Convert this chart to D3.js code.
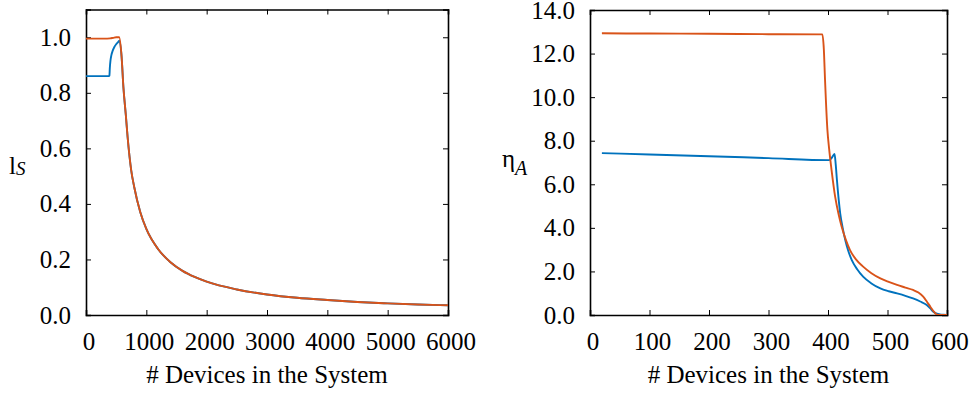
<!DOCTYPE html>
<html>
<head>
<meta charset="utf-8">
<script src="https://cdn.jsdelivr.net/npm/d3@7"></script>
<style>
  html, body { margin: 0; padding: 0; background: #fff; }
  svg { display: block; }
  text { font-family: "Liberation Serif", "DejaVu Serif", serif; fill: #000; }
</style>
</head>
<body>
<svg id="chart" width="973" height="396"></svg>
<script>
// ---------------- data ----------------
// Left panel: l_S vs number of devices
const leftBlueN = [0, 100, 200, 300, 380, 388, 395, 405, 420, 440, 470, 500, 530, 555, 590, 620, 660, 690, 750, 800, 900, 1000, 1200, 1400, 1600, 1800, 2000, 2500, 3000, 3500, 4000, 4500, 5000, 5500, 6000];
const leftBlueV = [0.86, 0.86, 0.86, 0.86, 0.86, 0.862, 0.89, 0.915, 0.935, 0.95, 0.965, 0.975, 0.982, 0.988, 0.93, 0.82, 0.72, 0.64, 0.52, 0.46, 0.37, 0.31, 0.236, 0.19, 0.159, 0.137, 0.12, 0.092, 0.074, 0.062, 0.054, 0.047, 0.042, 0.038, 0.035];
const leftOrangeN = [0, 100, 200, 300, 400, 450, 500, 550, 590, 620, 660, 690, 750, 800, 900, 1000, 1200, 1400, 1600, 1800, 2000, 2500, 3000, 3500, 4000, 4500, 5000, 5500, 6000];
const leftOrangeV = [0.995, 0.995, 0.995, 0.995, 0.996, 0.998, 1.0, 1.0, 0.93, 0.82, 0.72, 0.64, 0.52, 0.46, 0.37, 0.31, 0.236, 0.19, 0.159, 0.137, 0.12, 0.092, 0.074, 0.062, 0.054, 0.047, 0.042, 0.038, 0.035];

// Right panel: eta_A vs number of devices
const rightBlueN = [20, 100, 200, 300, 402, 406, 411, 413, 415, 420.5, 425, 429, 434, 440, 449, 459, 473, 488, 502, 516, 530, 543, 555, 566, 572, 577, 583, 588, 594, 600];
const rightBlueV = [7.43, 7.37, 7.29, 7.2, 7.11, 7.2, 7.39, 6.9, 6.2, 4.67, 3.95, 3.44, 2.95, 2.52, 2.1, 1.76, 1.45, 1.22, 1.09, 0.99, 0.88, 0.76, 0.62, 0.46, 0.3, 0.15, 0.06, 0.03, 0.01, 0.0];
const rightOrangeN = [20, 100, 200, 300, 390.5, 393, 395, 399, 402, 406, 412, 418, 423, 430, 437, 447, 459, 473, 488, 502, 516, 530, 543, 552, 560, 566, 572, 578, 583, 590, 600];
const rightOrangeV = [12.93, 12.92, 12.91, 12.89, 12.88, 12.2, 10.8, 8.5, 7.6, 6.65, 5.43, 4.6, 4.05, 3.45, 2.98, 2.55, 2.22, 1.92, 1.68, 1.52, 1.38, 1.26, 1.15, 1.03, 0.84, 0.62, 0.38, 0.15, 0.02, 0.0, 0.0];

// tick values
const leftXTicks = [0, 1000, 2000, 3000, 4000, 5000, 6000];
const leftYTicks = [0, 0.2, 0.4, 0.6, 0.8, 1.0];
const rightXTicks = [0, 100, 200, 300, 400, 500, 600];
const rightYTicks = [0, 2, 4, 6, 8, 10, 12, 14];

const xLabel = "# Devices in the System";
const blue = "#0072BD", orange = "#D95319";

// ---------------- drawing ----------------
const svg = d3.select("#chart");
const FONT = '"Liberation Serif", "DejaVu Serif", serif';
const FS = 25;

function panel(opt) {
  const g = svg.append("g");
  const x = d3.scaleLinear().domain(opt.xDomain).range([opt.left, opt.right]);
  const y = d3.scaleLinear().domain(opt.yDomain).range([opt.bottom, opt.top]);
  const fmtY = d3.format(".1f");
  const tickLen = 5;

  const clipId = "clip" + opt.id;
  svg.append("clipPath").attr("id", clipId).append("rect")
    .attr("x", opt.left).attr("y", opt.top)
    .attr("width", opt.right - opt.left).attr("height", opt.bottom - opt.top);

  // bottom axis
  const gx = g.append("g").attr("transform", `translate(0,${opt.bottom})`)
    .call(d3.axisBottom(x).tickValues(opt.xTicks).tickSize(-tickLen).tickPadding(12).tickFormat(d3.format("d")));
  // top axis (mirror)
  const gxt = g.append("g").attr("transform", `translate(0,${opt.top})`)
    .call(d3.axisTop(x).tickValues(opt.xTicks).tickSize(-tickLen).tickFormat(""));
  // left axis
  const gy = g.append("g").attr("transform", `translate(${opt.left},0)`)
    .call(d3.axisLeft(y).tickValues(opt.yTicks).tickSize(-tickLen).tickPadding(15).tickFormat(fmtY));
  // right axis (mirror)
  const gyr = g.append("g").attr("transform", `translate(${opt.right},0)`)
    .call(d3.axisRight(y).tickValues(opt.yTicks).tickSize(-tickLen).tickFormat(""));

  [gx, gxt, gy, gyr].forEach(a => {
    a.attr("font-family", FONT).attr("font-size", FS);
    a.select(".domain").attr("stroke", "#000").attr("stroke-width", 1.6);
    a.selectAll(".tick line").attr("stroke", "#000").attr("stroke-width", 1);
    a.selectAll("text").style("font-family", FONT).style("font-size", FS + "px").attr("fill", "#000");
  });
  gx.selectAll(".tick text").attr("y", 35).attr("dy", 0).attr("dx", 2.5);

  // lines
  const line = d3.line().x(d => x(d[0])).y(d => y(d[1])).curve(d3.curveMonotoneX);
  opt.series.forEach(s => {
    const pts = s.n.map((v, i) => [v, s.v[i]]);
    g.append("path").datum(pts)
      .attr("clip-path", `url(#${clipId})`)
      .attr("fill", "none").attr("stroke", s.color).attr("stroke-width", 1.9)
      .attr("stroke-linejoin", "round")
      .attr("d", line);
  });

  // x label
  g.append("text").attr("x", (opt.left + opt.right) / 2).attr("y", 383)
    .attr("text-anchor", "middle").style("font-size", FS + "px").style("font-family", FONT).text(xLabel);

  // y label
  const yl = g.append("text").attr("x", opt.yLabelX).attr("y", opt.yLabelY)
    .style("font-size", FS + "px").style("font-family", FONT);
  yl.append("tspan").text(opt.yMain);
  yl.append("tspan").attr("dy", opt.subDy).style("font-size", opt.subSize + "px").style("font-style", "italic").text(opt.ySub);
}

panel({
  id: "L", left: 86, right: 448, top: 9.5, bottom: 315,
  xDomain: [0, 6000], yDomain: [0, 1.1],
  xTicks: leftXTicks, yTicks: leftYTicks,
  yMain: "l", ySub: "S", yLabelX: 9, yLabelY: 174, subDy: 1, subSize: 19,
  series: [{ n: leftBlueN, v: leftBlueV, color: blue }, { n: leftOrangeN, v: leftOrangeV, color: orange }]
});

panel({
  id: "R", left: 590, right: 947, top: 10, bottom: 315,
  xDomain: [0, 600], yDomain: [0, 14],
  xTicks: rightXTicks, yTicks: rightYTicks,
  yMain: "η", ySub: "A", yLabelX: 502, yLabelY: 167, subDy: 8, subSize: 20,
  series: [{ n: rightBlueN, v: rightBlueV, color: blue }, { n: rightOrangeN, v: rightOrangeV, color: orange }]
});
</script>
</body>
</html>
